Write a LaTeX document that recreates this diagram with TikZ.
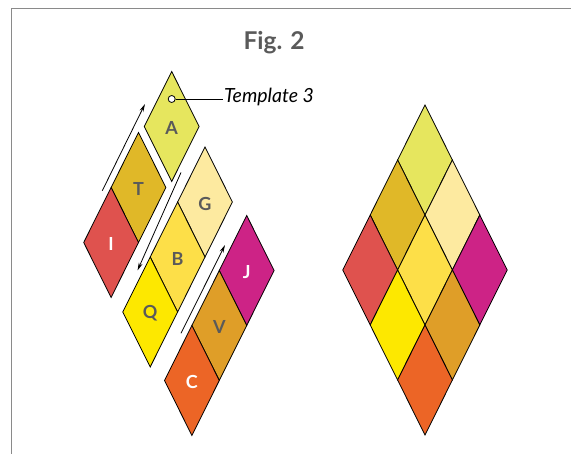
\documentclass[tikz,border=0pt]{standalone}
\usepackage{fontspec}
\setmainfont{Lato}
\usetikzlibrary{arrows.meta}
\definecolor{cA}{HTML}{E6E65E}
\definecolor{cT}{HTML}{E0B828}
\definecolor{cG}{HTML}{FDEAA0}
\definecolor{cI}{HTML}{DF524E}
\definecolor{cB}{HTML}{FDDF48}
\definecolor{cJ}{HTML}{CD2386}
\definecolor{cQ}{HTML}{FDE800}
\definecolor{cV}{HTML}{DF9E28}
\definecolor{cC}{HTML}{EC6526}
\definecolor{txtgray}{HTML}{5A5A5A}
\definecolor{framegray}{HTML}{8A8A8A}
\newcommand{\rhw}{27.4}
\newcommand{\rhh}{55}
% rhombus by top apex
\newcommand{\rhombus}[3]{%
  \filldraw[piece, fill=#3] (#1,#2) -- ++(\rhw,\rhh) -- ++(-\rhw,\rhh) -- ++(-\rhw,-\rhh) -- cycle;}
\tikzset{
  piece/.style={draw=black, line width=0.8pt, line join=miter},
  darklbl/.style={font=\bfseries\fontsize{18}{18}\selectfont, text=txtgray},
  whitelbl/.style={font=\bfseries\fontsize{18}{18}\selectfont, text=white},
  movearrow/.style={line width=0.8pt, -{Stealth[length=8pt,width=4pt]}},
}
\begin{document}
\begin{tikzpicture}[x=1pt,y=-1pt]
\useasboundingbox (0,0) rectangle (571,454);
% frame
\draw[framegray, line width=1.5pt] (11.5,454) -- (11.5,8.5) -- (571,8.5);
% title
\node[font=\bfseries\fontsize{24.5}{24.5}\selectfont, text=txtgray] (title) at (274,43) {Fig. 2};

% ---- exploded pieces ----
\rhombus{171.7}{71.5}{cA}
\rhombus{138.5}{132.5}{cT}
\rhombus{111.1}{187.5}{cI}
\rhombus{205}{147}{cG}
\rhombus{177.6}{202}{cB}
\rhombus{150.2}{257}{cQ}
\rhombus{246.7}{215.5}{cJ}
\rhombus{219.3}{270.5}{cV}
\rhombus{191.9}{325.5}{cC}

\node[darklbl] (lA) at (171.7,128) {A};
\node[darklbl] (lT) at (138.5,189) {T};
\node[whitelbl] (lI) at (111.1,244) {I};
\node[darklbl] (lG) at (205,203.5) {G};
\node[darklbl] (lB) at (177.6,258.5) {B};
\node[darklbl] (lQ) at (150.2,313.5) {Q};
\node[whitelbl] (lJ) at (246.7,272) {J};
\node[darklbl] (lV) at (219.3,327) {V};
\node[whitelbl] (lC) at (191.9,382) {C};

% template pointer
\node[circle, draw=black, fill=white, line width=0.8pt, inner sep=0pt, minimum size=7pt] (pin) at (171.7,99) {};
\node[anchor=west, inner sep=1pt, font=\itshape\fontsize{19.5}{19.5}\selectfont] (tmpl) at (223,97) {Template 3};
\draw[line width=0.8pt] (pin.east) -- (pin.east -| tmpl.west);

% arrows
\coordinate (a1s) at (102.3,190.7);
\coordinate (a1e) at (145,104);
\coordinate (a2s) at (181,172.5);
\coordinate (a2e) at (137.5,270.5);
\coordinate (a3s) at (181,333.3);
\coordinate (a3e) at (225,245);
\draw[movearrow] (a1s) -- (a1e);
\draw[movearrow] (a2s) -- (a2e);
\draw[movearrow] (a3s) -- (a3e);

% ---- assembled diamond ----
\rhombus{425}{105}{cA}
\rhombus{397.6}{160}{cT}
\rhombus{370.2}{215}{cI}
\rhombus{452.4}{160}{cG}
\rhombus{425}{215}{cB}
\rhombus{397.6}{270}{cQ}
\rhombus{479.8}{215}{cJ}
\rhombus{452.4}{270}{cV}
\rhombus{425}{325}{cC}
\end{tikzpicture}
\end{document}
